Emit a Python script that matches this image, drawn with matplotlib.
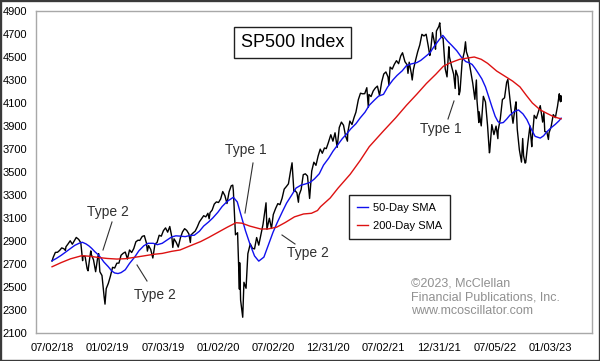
import matplotlib
matplotlib.use("Agg")
import matplotlib.pyplot as plt
import matplotlib.dates as mdates
from matplotlib.patches import Rectangle
from matplotlib.lines import Line2D
import pandas as pd

plt.rcParams['font.family'] = ['Liberation Sans', 'DejaVu Sans']

# ---------------- data ----------------
price_dates = [
    "2018-07-02", "2018-07-06", "2018-07-13", "2018-07-20", "2018-07-27", "2018-08-03", "2018-08-10",
    "2018-08-15", "2018-08-17", "2018-08-24", "2018-08-31", "2018-09-07", "2018-09-14", "2018-09-20",
    "2018-09-28", "2018-10-05", "2018-10-11", "2018-10-12", "2018-10-19", "2018-10-26", "2018-10-29",
    "2018-11-02", "2018-11-07", "2018-11-09", "2018-11-16", "2018-11-23", "2018-11-30", "2018-12-03",
    "2018-12-07", "2018-12-14", "2018-12-21", "2018-12-24", "2018-12-28", "2019-01-04", "2019-01-11",
    "2019-01-18", "2019-01-25", "2019-02-01", "2019-02-08", "2019-02-15", "2019-02-22", "2019-03-01",
    "2019-03-08", "2019-03-15", "2019-03-22", "2019-03-29", "2019-04-05", "2019-04-12", "2019-04-18",
    "2019-04-26", "2019-05-03", "2019-05-10", "2019-05-13", "2019-05-17", "2019-05-24", "2019-05-31",
    "2019-06-07", "2019-06-14", "2019-06-21", "2019-06-28", "2019-07-05", "2019-07-12", "2019-07-19",
    "2019-07-26", "2019-08-02", "2019-08-05", "2019-08-09", "2019-08-16", "2019-08-23", "2019-08-30",
    "2019-09-06", "2019-09-13", "2019-09-20", "2019-09-27", "2019-10-02", "2019-10-04", "2019-10-11",
    "2019-10-18", "2019-10-25", "2019-11-01", "2019-11-08", "2019-11-15", "2019-11-22", "2019-11-29",
    "2019-12-03", "2019-12-06", "2019-12-13", "2019-12-20", "2019-12-27", "2020-01-03", "2020-01-10",
    "2020-01-17", "2020-01-24", "2020-01-31", "2020-02-07", "2020-02-14", "2020-02-19", "2020-02-21",
    "2020-02-28", "2020-03-06", "2020-03-12", "2020-03-13", "2020-03-16", "2020-03-20", "2020-03-23",
    "2020-03-27", "2020-04-03", "2020-04-09", "2020-04-17", "2020-04-24", "2020-05-01", "2020-05-08",
    "2020-05-15", "2020-05-22", "2020-05-29", "2020-06-08", "2020-06-11", "2020-06-19", "2020-06-26",
    "2020-07-02", "2020-07-10", "2020-07-17", "2020-07-24", "2020-07-31", "2020-08-07", "2020-08-14",
    "2020-08-21", "2020-08-28", "2020-09-02", "2020-09-08", "2020-09-11", "2020-09-18", "2020-09-23",
    "2020-09-25", "2020-10-02", "2020-10-09", "2020-10-16", "2020-10-23", "2020-10-30", "2020-11-06",
    "2020-11-13", "2020-11-20", "2020-11-27", "2020-12-04", "2020-12-11", "2020-12-18", "2020-12-24",
    "2020-12-31", "2021-01-08", "2021-01-15", "2021-01-22", "2021-01-29", "2021-02-05", "2021-02-12",
    "2021-02-19", "2021-02-26", "2021-03-04", "2021-03-05", "2021-03-12", "2021-03-19", "2021-03-26",
    "2021-04-01", "2021-04-09", "2021-04-16", "2021-04-23", "2021-04-30", "2021-05-07", "2021-05-12",
    "2021-05-14", "2021-05-21", "2021-05-28", "2021-06-04", "2021-06-11", "2021-06-18", "2021-06-25",
    "2021-07-02", "2021-07-09", "2021-07-16", "2021-07-19", "2021-07-23", "2021-07-30", "2021-08-06",
    "2021-08-13", "2021-08-20", "2021-08-27", "2021-09-02", "2021-09-10", "2021-09-17", "2021-09-20",
    "2021-09-24", "2021-10-01", "2021-10-04", "2021-10-08", "2021-10-15", "2021-10-22", "2021-10-29",
    "2021-11-05", "2021-11-12", "2021-11-19", "2021-11-26", "2021-12-01", "2021-12-03", "2021-12-10",
    "2021-12-17", "2021-12-20", "2021-12-23", "2021-12-31", "2022-01-03", "2022-01-07", "2022-01-14",
    "2022-01-21", "2022-01-27", "2022-02-02", "2022-02-04", "2022-02-11", "2022-02-18", "2022-02-23",
    "2022-02-25", "2022-03-04", "2022-03-08", "2022-03-11", "2022-03-18", "2022-03-25", "2022-03-29",
    "2022-04-01", "2022-04-08", "2022-04-14", "2022-04-22", "2022-04-29", "2022-05-04", "2022-05-06",
    "2022-05-12", "2022-05-13", "2022-05-20", "2022-05-27", "2022-06-03", "2022-06-10", "2022-06-16",
    "2022-06-17", "2022-06-24", "2022-07-01", "2022-07-08", "2022-07-14", "2022-07-15", "2022-07-22",
    "2022-07-29", "2022-08-05", "2022-08-12", "2022-08-16", "2022-08-19", "2022-08-26", "2022-09-02",
    "2022-09-09", "2022-09-12", "2022-09-16", "2022-09-23", "2022-09-30", "2022-10-04", "2022-10-07",
    "2022-10-12", "2022-10-14", "2022-10-21", "2022-10-28", "2022-11-03", "2022-11-04", "2022-11-11",
    "2022-11-18", "2022-11-25", "2022-12-01", "2022-12-09", "2022-12-13", "2022-12-16", "2022-12-23",
    "2022-12-28", "2022-12-30", "2023-01-06", "2023-01-13", "2023-01-20", "2023-01-27", "2023-02-02",
    "2023-02-03", "2023-02-06", "2023-02-07", "2023-02-08",
]
price_vals = [
    2726, 2759, 2801, 2802, 2818, 2840, 2833,
    2818, 2850, 2875, 2902, 2872, 2904, 2931,
    2914, 2885, 2729, 2767, 2768, 2658, 2641,
    2723, 2814, 2781, 2736, 2633, 2760, 2790,
    2633, 2600, 2417, 2351, 2486, 2532, 2596,
    2671, 2665, 2707, 2708, 2776, 2793, 2804,
    2743, 2822, 2800, 2834, 2893, 2907, 2905,
    2940, 2946, 2881, 2812, 2860, 2826, 2752,
    2873, 2887, 2950, 2942, 2990, 3014, 2977,
    3026, 2932, 2844, 2919, 2889, 2847, 2926,
    2979, 3007, 2992, 2962, 2887, 2952, 2970,
    2986, 3023, 3067, 3093, 3120, 3110, 3141,
    3093, 3146, 3169, 3221, 3240, 3235, 3265,
    3330, 3295, 3226, 3328, 3380, 3386, 3338,
    2954, 2972, 2481, 2711, 2386, 2305, 2237,
    2541, 2489, 2790, 2875, 2837, 2831, 2930,
    2864, 2955, 3044, 3232, 3002, 3098, 3009,
    3130, 3185, 3225, 3216, 3271, 3351, 3373,
    3397, 3508, 3580, 3332, 3341, 3319, 3237,
    3298, 3348, 3477, 3484, 3465, 3270, 3509,
    3585, 3558, 3638, 3699, 3663, 3709, 3703,
    3756, 3824, 3768, 3841, 3714, 3887, 3934,
    3907, 3811, 3768, 3842, 3943, 3913, 3975,
    4020, 4129, 4185, 4180, 4181, 4233, 4063,
    4174, 4156, 4204, 4230, 4247, 4166, 4281,
    4352, 4370, 4327, 4258, 4412, 4395, 4437,
    4468, 4442, 4509, 4537, 4459, 4433, 4358,
    4455, 4357, 4300, 4391, 4471, 4545, 4605,
    4697, 4683, 4698, 4595, 4513, 4538, 4712,
    4620, 4568, 4726, 4766, 4797, 4677, 4663,
    4398, 4327, 4589, 4501, 4419, 4349, 4226,
    4385, 4329, 4171, 4204, 4463, 4543, 4632,
    4546, 4488, 4393, 4272, 4132, 4300, 4123,
    3930, 4024, 3901, 4158, 4109, 3901, 3667,
    3675, 3912, 3825, 3899, 3790, 3863, 3962,
    4130, 4145, 4280, 4305, 4228, 4058, 3924,
    4067, 4110, 3873, 3693, 3586, 3791, 3640,
    3577, 3583, 3752, 3901, 3720, 3771, 3993,
    3965, 4026, 4077, 3934, 4019, 3852, 3845,
    3783, 3840, 3895, 3999, 3973, 4071, 4180,
    4136, 4111, 4164, 4117,
]

sma50_dates = [
    "2018-07-02", "2018-07-16", "2018-08-01", "2018-08-15", "2018-09-01", "2018-09-15", "2018-10-01",
    "2018-10-10", "2018-10-22", "2018-11-01", "2018-11-10", "2018-11-20", "2018-12-01", "2018-12-10",
    "2018-12-20", "2019-01-04", "2019-01-15", "2019-01-25", "2019-02-05", "2019-02-15", "2019-03-01",
    "2019-03-15", "2019-04-01", "2019-04-15", "2019-05-01", "2019-05-15", "2019-06-01", "2019-06-15",
    "2019-07-01", "2019-07-15", "2019-08-01", "2019-08-15", "2019-09-01", "2019-09-15", "2019-10-01",
    "2019-10-15", "2019-11-01", "2019-11-15", "2019-12-01", "2019-12-15", "2020-01-01", "2020-01-15",
    "2020-02-01", "2020-02-21", "2020-03-05", "2020-03-20", "2020-04-01", "2020-04-15", "2020-05-01",
    "2020-05-15", "2020-06-01", "2020-06-15", "2020-07-01", "2020-07-15", "2020-08-01", "2020-08-15",
    "2020-09-01", "2020-09-15", "2020-10-01", "2020-10-15", "2020-11-01", "2020-11-15", "2020-12-01",
    "2020-12-15", "2021-01-01", "2021-01-15", "2021-02-01", "2021-02-15", "2021-03-01", "2021-03-15",
    "2021-04-01", "2021-04-15", "2021-05-01", "2021-05-15", "2021-06-01", "2021-06-15", "2021-07-01",
    "2021-07-15", "2021-08-01", "2021-08-15", "2021-09-01", "2021-09-15", "2021-10-01", "2021-10-19",
    "2021-11-01", "2021-11-15", "2021-12-01", "2021-12-15", "2022-01-01", "2022-01-13", "2022-01-28",
    "2022-02-12", "2022-02-28", "2022-03-15", "2022-03-30", "2022-04-10", "2022-04-20", "2022-04-30",
    "2022-05-10", "2022-05-22", "2022-06-03", "2022-06-13", "2022-06-24", "2022-07-05", "2022-07-14",
    "2022-07-21", "2022-08-01", "2022-08-12", "2022-08-23", "2022-09-06", "2022-09-20", "2022-10-05",
    "2022-10-18", "2022-11-01", "2022-11-14", "2022-12-01", "2022-12-12", "2022-12-23", "2023-01-06",
    "2023-01-20", "2023-02-01", "2023-02-08",
]
sma50_vals = [
    2728, 2748, 2775, 2802, 2835, 2862, 2882,
    2889, 2875, 2857, 2836, 2808, 2782, 2755,
    2718, 2676, 2640, 2622, 2617, 2625, 2650,
    2705, 2760, 2815, 2858, 2880, 2880, 2868,
    2880, 2905, 2935, 2945, 2942, 2938, 2948,
    2950, 2985, 3030, 3065, 3100, 3150, 3200,
    3245, 3280, 3240, 3100, 2990, 2880, 2770,
    2725, 2760, 2860, 2975, 3060, 3155, 3230,
    3300, 3360, 3385, 3395, 3410, 3440, 3485,
    3560, 3620, 3680, 3740, 3790, 3830, 3875,
    3920, 3970, 4020, 4080, 4125, 4160, 4175,
    4240, 4300, 4340, 4380, 4425, 4440, 4451,
    4470, 4500, 4535, 4590, 4650, 4688, 4640,
    4600, 4555, 4500, 4460, 4450, 4435, 4400,
    4360, 4310, 4240, 4160, 4070, 3985, 3940,
    3925, 3930, 3960, 3995, 4025, 4040, 4005,
    3955, 3875, 3810, 3795, 3815, 3850, 3885,
    3915, 3945, 3968,
]

sma200_dates = [
    "2018-07-02", "2018-08-01", "2018-09-01", "2018-10-08", "2018-11-01", "2018-12-07", "2019-01-01",
    "2019-02-01", "2019-03-01", "2019-04-01", "2019-05-05", "2019-06-02", "2019-07-01", "2019-08-01",
    "2019-08-29", "2019-10-03", "2019-11-05", "2019-12-01", "2020-01-01", "2020-02-01", "2020-03-01",
    "2020-03-20", "2020-04-15", "2020-05-22", "2020-06-15", "2020-07-13", "2020-08-10", "2020-09-10",
    "2020-10-10", "2020-11-05", "2020-11-25", "2020-12-05", "2021-01-06", "2021-02-01", "2021-03-13",
    "2021-04-15", "2021-05-15", "2021-07-01", "2021-08-10", "2021-09-15", "2021-10-19", "2021-11-20",
    "2021-12-21", "2022-01-15", "2022-02-07", "2022-03-10", "2022-04-27", "2022-05-20", "2022-06-10",
    "2022-07-10", "2022-08-05", "2022-09-01", "2022-09-25", "2022-10-15", "2022-11-05", "2022-12-01",
    "2022-12-23", "2023-01-15", "2023-02-08",
]
sma200_vals = [
    2676, 2712, 2745, 2772, 2768, 2755, 2748,
    2743, 2746, 2758, 2772, 2784, 2792, 2810,
    2822, 2860, 2895, 2930, 2975, 3020, 3059,
    3055, 3030, 3004, 3005, 3020, 3060, 3110,
    3135, 3141, 3165, 3198, 3274, 3360, 3480,
    3600, 3720, 3857, 3970, 4080, 4176, 4270,
    4350, 4420, 4450, 4480, 4500, 4480, 4445,
    4378, 4335, 4290, 4240, 4170, 4100, 4040,
    4010, 3980, 3962,
]

tick_dates = ["2018-07-02", "2019-01-02", "2019-07-03", "2020-01-02", "2020-07-02",
              "2020-12-31", "2021-07-02", "2021-12-31", "2022-07-05", "2023-01-03"]
tick_labels = ["07/02/18", "01/02/19", "07/03/19", "01/02/20", "07/02/20",
               "12/31/20", "07/02/21", "12/31/21", "07/05/22", "01/03/23"]
y_ticks = list(range(2100, 5000, 200))

# ---------------- figure ----------------
W, H = 600, 361
fig = plt.figure(figsize=(W / 100, H / 100), dpi=100)
fig.patch.set_facecolor("white")
ax = fig.add_axes([36 / W, 1 - 333 / H, (592 - 36) / W, (333 - 11) / H])

ax.plot(pd.to_datetime(price_dates), price_vals, color="black", lw=1.0, zorder=2)
ax.plot(pd.to_datetime(sma50_dates), sma50_vals, color="#1010ee", lw=1.0, zorder=3,
        label="50-Day SMA")
ax.plot(pd.to_datetime(sma200_dates), sma200_vals, color="#dd1111", lw=1.0, zorder=3,
        label="200-Day SMA")

ax.set_xlim(pd.Timestamp("2018-05-10"), pd.Timestamp("2023-05-21"))
ax.set_ylim(2100, 4900)
ax.set_yticks(y_ticks)
ax.set_yticklabels([str(v) for v in y_ticks])
ax.set_xticks(pd.to_datetime(tick_dates))
ax.set_xticklabels(tick_labels)
ax.tick_params(axis="both", length=0, labelsize=8, colors="black")
ax.tick_params(axis="y", pad=6.5)
ax.tick_params(axis="x", pad=7)
for s in ax.spines.values():
    s.set_color("#a8a8a8")
    s.set_linewidth(1.0)

# legend
leg = ax.legend(loc="upper left", bbox_to_anchor=(349 / W, 1 - 195 / H),
                bbox_transform=fig.transFigure, fontsize=8, frameon=True,
                fancybox=False, edgecolor="#202020", framealpha=1,
                handlelength=1.0, handletextpad=0.5, labelspacing=0.75,
                borderpad=0.7, borderaxespad=0)
leg.get_frame().set_linewidth(1.0)

# title box
fig.text(292.5 / W, 1 - 42.5 / H, "SP500 Index", fontsize=13, ha="center", va="center",
         bbox=dict(boxstyle="square,pad=0.38", fc="white", ec="#202020", lw=1.0))

# annotations (pixel positions)
def fx(x):
    return x / W

def fy(y):
    return 1 - y / H

notes = [
    ("Type 1", 246, 150, (253, 163), (245, 213)),
    ("Type 1", 441, 129, (454, 101), (448, 119)),
    ("Type 2", 108, 212, (112, 222), (103, 250)),
    ("Type 2", 155, 295, (147, 281), (137, 265)),
    ("Type 2", 308, 253, (295, 244), (282, 235)),
]
for txt, tx, ty, p0, p1 in notes:
    fig.text(fx(tx), fy(ty), txt, fontsize=10, ha="center", va="center", color="#303030")
    fig.add_artist(Line2D([fx(p0[0]), fx(p1[0])], [fy(p0[1]), fy(p1[1])],
                          color="#303030", lw=0.8, transform=fig.transFigure))

fig.text(fx(411), fy(277), "©2023, McClellan\nFinancial Publications, Inc.\nwww.mcoscillator.com",
         fontsize=9, ha="left", va="top", color="#909090", linespacing=1.25)

# outer frame
fig.add_artist(Rectangle((0, 0), 1, 1, transform=fig.transFigure, fill=False,
                         ec="#3a3a3a", lw=2.4, clip_on=False))

fig.savefig("out.png", dpi=100)
